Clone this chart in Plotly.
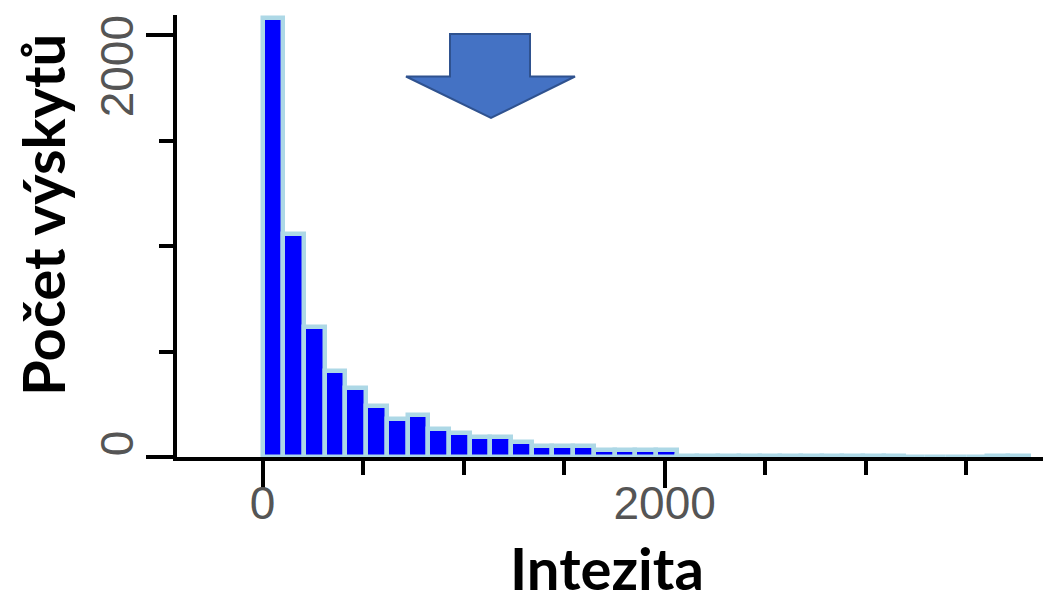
import plotly.graph_objects as go

# ---- data ----
bin_width = 103
counts = [2083, 1057, 618, 408, 325, 242, 178, 199, 135, 114,
          95, 95, 73, 52, 52, 52, 31, 31, 31, 31,
          7, 7, 7, 7, 7, 7, 7, 7, 7, 7, 7,
          0, 0, 0, 0,
          7, 7]
x_tick_vals = [0, 2000]
x_tick_text = ["0", "2000"]
y_tick_vals = [0, 2000]
y_tick_text = ["\u00a0" * 7 + "0", "2000"]
x_title = "Intezita&nbsp;"
y_title = "&nbsp;&nbsp;&nbsp;Počet výskytů"

bin_centers = [bin_width * (i + 0.5) for i in range(len(counts))]

# ---- layout geometry (page is drawn with an 8px body offset) ----
OFF = 8
W, H = 1051, 603
L, R, T, B = 177 - OFF, OFF, 15 - OFF, H - (457 - OFF)
PW, PH = W - L - R, H - T - B


def to_paper(px, py):
    # px, py in page pixels
    fx, fy = px - OFF, py - OFF
    return (fx - L) / PW, (H - B - fy) / PH


fig = go.Figure()
fig.add_trace(go.Bar(
    x=bin_centers, y=counts, width=bin_width,
    marker=dict(color="#0000FF", line=dict(color="#ADD8E6", width=4.5)),
    showlegend=False, hoverinfo="x+y",
))

# block arrow decoration
arrow_px = [(450, 34), (530, 34), (530, 76.5), (575, 76.5), (491, 118),
            (406, 76.5), (450, 76.5)]
pts = [to_paper(px, py) for px, py in arrow_px]
path = "M " + " L ".join(f"{x:.5f},{y:.5f}" for x, y in pts) + " Z"
fig.add_shape(type="path", xref="paper", yref="paper", path=path,
              fillcolor="#4472C4", line=dict(color="#2F528F", width=2),
              layer="above")

tick_font = dict(family="Liberation Sans, Arial, sans-serif", size=46, color="#555555")
title_font = dict(family="Lato, Open Sans, sans-serif", size=58, color="black", weight="bold")

fig.update_layout(
    width=W, height=H,
    margin=dict(l=L, r=R, t=T, b=B, pad=0),
    paper_bgcolor="white", plot_bgcolor="white",
    bargap=0,
    xaxis=dict(
        range=[-426, 3922], showgrid=False, zeroline=False,
        showline=True, linecolor="black", linewidth=4,
        ticks="outside", tickmode="array", tickvals=x_tick_vals, ticktext=x_tick_text,
        ticklen=27, tickwidth=4, tickcolor="black", tickfont=tick_font,
        ticklabelstandoff=-24,
        minor=dict(ticks="outside", dtick=500, tick0=0, ticklen=14, tickwidth=4,
                   tickcolor="black", showgrid=False),
        title=dict(text=x_title, font=title_font, standoff=22),
        automargin=False,
    ),
    yaxis=dict(
        range=[0, 2095], showgrid=False, zeroline=False,
        showline=True, linecolor="black", linewidth=4,
        ticks="outside", tickmode="array", tickvals=y_tick_vals, ticktext=y_tick_text,
        ticklen=27, tickwidth=4, tickcolor="black", tickfont=tick_font, tickangle=-90,
        ticklabelshift=38, ticklabelstandoff=-5, ticklabeloverflow="allow",
        minor=dict(ticks="outside", dtick=500, tick0=0, ticklen=14, tickwidth=4,
                   tickcolor="black", showgrid=False),
        title=dict(text=y_title, font=title_font, standoff=24),
        automargin=False,
    ),
)

fig.write_html("out.html")
